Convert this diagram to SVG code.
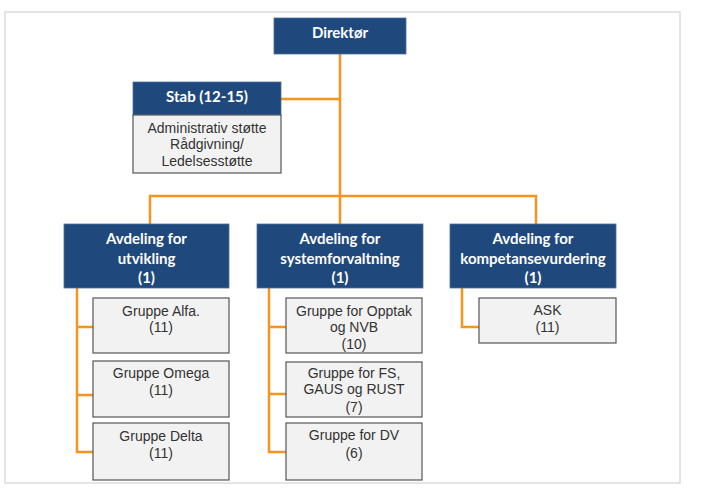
<svg xmlns="http://www.w3.org/2000/svg" width="712" height="496" viewBox="0 0 712 496">
<style>
.frame{fill:#fff;stroke:#dcdcdc;stroke-width:1.5}
.hd{fill:#1f497d;stroke:#4f6f99;stroke-width:0.8}
.bx{fill:#f2f2f2;stroke:#555;stroke-width:1.2}
.ht{font-family:Lato,"Open Sans",sans-serif;font-weight:bold;font-size:15px;fill:#fff;text-anchor:middle}
.bt{font-family:"Liberation Sans",Arial,sans-serif;font-size:14px;fill:#333;text-anchor:middle}
.ln{fill:none;stroke:#f7941d;stroke-width:2.5}
</style>
<rect class="frame" x="5" y="12" width="675" height="471"/>
<g id="connectors">
<path class="ln" d="M340,54 V196"/>
<path class="ln" d="M281,99 H340"/>
<path class="ln" d="M150,224 V196 H536 V224"/>
<path class="ln" d="M340,196 V224"/>
<path class="ln" d="M77,288 V452 H93 M77,327 H93 M77,395 H93"/>
<path class="ln" d="M269,288 V452 H286 M269,327 H286 M269,394 H286"/>
<path class="ln" d="M462,288 V327 H479"/>
</g>
<g id="direktor">
<rect class="hd" x="274" y="18" width="132" height="36"/>
<text class="ht" x="340" y="38">Direktør</text>
</g>
<g id="stab">
<rect class="hd" x="133" y="82" width="148" height="33"/>
<text class="ht" x="207" y="102">Stab (12-15)</text>
<rect class="bx" x="133" y="115" width="148" height="58"/>
<text class="bt" x="207" y="133">Administrativ støtte</text>
<text class="bt" x="207" y="149">Rådgivning/</text>
<text class="bt" x="207" y="166">Ledelsesstøtte</text>
</g>
<g id="avd-utvikling">
<rect class="hd" x="64" y="224" width="165" height="64"/>
<text class="ht" x="146.5" y="244">Avdeling for</text>
<text class="ht" x="146.5" y="264">utvikling</text>
<text class="ht" x="146.5" y="283">(1)</text>
</g>
<g id="avd-system">
<rect class="hd" x="257" y="224" width="166" height="64"/>
<text class="ht" x="340" y="244">Avdeling for</text>
<text class="ht" x="340" y="264">systemforvaltning</text>
<text class="ht" x="340" y="283">(1)</text>
</g>
<g id="avd-kompetanse">
<rect class="hd" x="450" y="224" width="166" height="64"/>
<text class="ht" x="533" y="244">Avdeling for</text>
<text class="ht" x="533" y="264">kompetansevurdering</text>
<text class="ht" x="533" y="283">(1)</text>
</g>
<g id="alfa">
<rect class="bx" x="93" y="298" width="136" height="55"/>
<text class="bt" x="161" y="316">Gruppe Alfa.</text>
<text class="bt" x="161" y="332">(11)</text>
</g>
<g id="omega">
<rect class="bx" x="93" y="361" width="136" height="56"/>
<text class="bt" x="161" y="378">Gruppe Omega</text>
<text class="bt" x="161" y="395">(11)</text>
</g>
<g id="delta">
<rect class="bx" x="93" y="423" width="136" height="57"/>
<text class="bt" x="161" y="441">Gruppe Delta</text>
<text class="bt" x="161" y="458">(11)</text>
</g>
<g id="opptak">
<rect class="bx" x="286" y="298" width="136" height="55"/>
<text class="bt" x="354" y="316">Gruppe for Opptak</text>
<text class="bt" x="354" y="332">og NVB</text>
<text class="bt" x="354" y="349">(10)</text>
</g>
<g id="fs">
<rect class="bx" x="286" y="362" width="136" height="55"/>
<text class="bt" x="354" y="378">Gruppe for FS,</text>
<text class="bt" x="354" y="394">GAUS og RUST</text>
<text class="bt" x="354" y="412">(7)</text>
</g>
<g id="dv">
<rect class="bx" x="286" y="423" width="136" height="57"/>
<text class="bt" x="354" y="440">Gruppe for DV</text>
<text class="bt" x="354" y="458">(6)</text>
</g>
<g id="ask">
<rect class="bx" x="479" y="298" width="137" height="45"/>
<text class="bt" x="547.5" y="315">ASK</text>
<text class="bt" x="547.5" y="332">(11)</text>
</g>
</svg>
